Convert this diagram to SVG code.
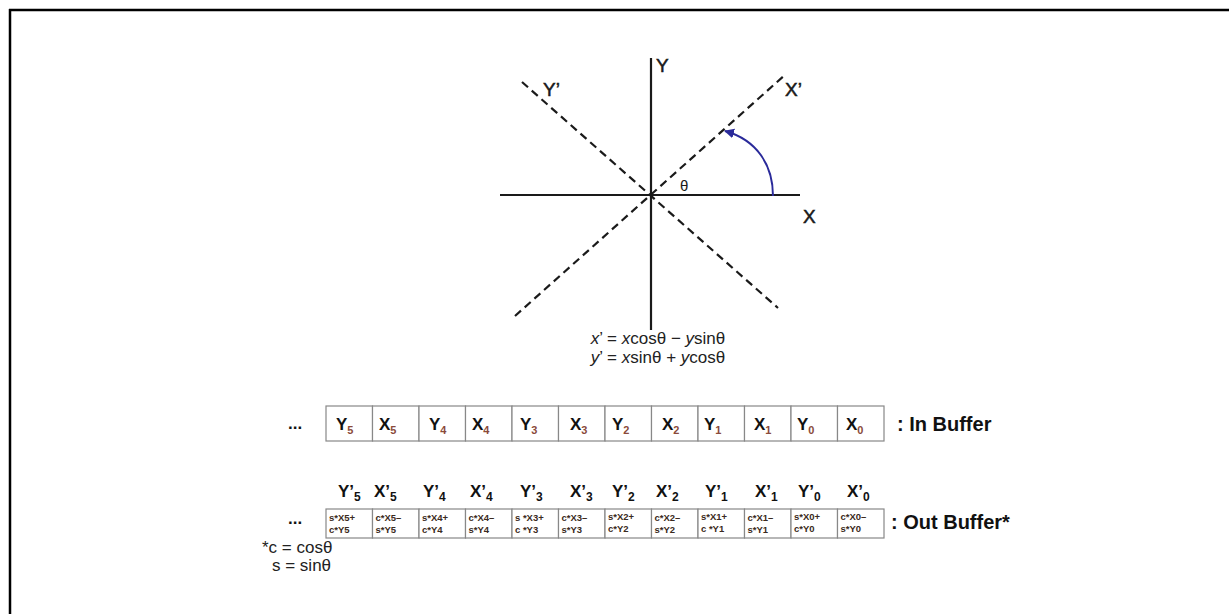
<svg xmlns="http://www.w3.org/2000/svg" width="1229" height="614" viewBox="0 0 1229 614">
<style>
.ax{stroke:#1a1a1a;stroke-width:2.2;fill:none}
.dash{stroke:#1a1a1a;stroke-width:2.2;fill:none;stroke-dasharray:8 5}
.lbl{font-family:"Liberation Sans",Arial,sans-serif;font-size:19px;fill:#1a1a1a;stroke:#1a1a1a;stroke-width:0.5}
.eq{font-family:"Liberation Sans",Arial,sans-serif;font-size:17px;fill:#222}
.cell{fill:#fff;stroke:#888;stroke-width:1.2}
.big{font-family:"Liberation Sans",Arial,sans-serif;font-size:17px;font-weight:bold;fill:#111}
.sub{font-size:11px;fill:#8a4a3a}
.osub{font-size:12px;fill:#111}
.tiny{font-family:"Liberation Sans",Arial,sans-serif;font-size:9.5px;font-weight:bold;fill:#3a2a20}
.tag{font-family:"Liberation Sans",Arial,sans-serif;font-size:20px;font-weight:bold;fill:#111}
.note{font-family:"Liberation Sans",Arial,sans-serif;font-size:17px;fill:#222}
</style>
<defs>
<marker id="ah" viewBox="0 0 10 10" refX="9" refY="5" markerWidth="5" markerHeight="5" orient="auto">
<path d="M0,0 L10,5 L0,10 z" fill="#2a2a9a"/>
</marker>
</defs>
<g id="frame">
<line x1="9" y1="10" x2="1229" y2="10" stroke="#000" stroke-width="2.5"/>
<line x1="10" y1="9" x2="10" y2="614" stroke="#000" stroke-width="2.5"/>
</g>
<g id="axes">
<line class="ax" x1="651" y1="58" x2="651" y2="330"/>
<line class="ax" x1="500" y1="195" x2="800" y2="195"/>
<line class="dash" x1="515" y1="316" x2="786" y2="74"/>
<line class="dash" x1="522" y1="82" x2="778" y2="308"/>
<path d="M773,196 C773,165 757,140 725,131" fill="none" stroke="#2a2a9a" stroke-width="2" marker-end="url(#ah)"/>
<text class="lbl" x="656" y="72">Y</text>
<text class="lbl" x="543" y="96">Y’</text>
<text class="lbl" x="785" y="96">X’</text>
<text class="lbl" x="803" y="223">X</text>
<text class="lbl" x="680" y="191" style="font-size:15px;stroke-width:0">θ</text>
</g>
<g id="equations">
<text class="eq" x="658" y="344" text-anchor="middle"><tspan font-style="italic">x</tspan>’ = <tspan font-style="italic">x</tspan>cosθ − <tspan font-style="italic">y</tspan>sinθ</text>
<text class="eq" x="658" y="363" text-anchor="middle"><tspan font-style="italic">y</tspan>’ = <tspan font-style="italic">x</tspan>sinθ + <tspan font-style="italic">y</tspan>cosθ</text>
</g>
<g id="in-buffer">
<text class="big" x="288" y="429">...</text>
<rect class="cell" x="326" y="406" width="46.5" height="35"/>
<rect class="cell" x="372.5" y="406" width="46.5" height="35"/>
<rect class="cell" x="419" y="406" width="46.5" height="35"/>
<rect class="cell" x="465.5" y="406" width="46.5" height="35"/>
<rect class="cell" x="512" y="406" width="46.5" height="35"/>
<rect class="cell" x="558.5" y="406" width="46.5" height="35"/>
<rect class="cell" x="605" y="406" width="46.5" height="35"/>
<rect class="cell" x="651.5" y="406" width="46.5" height="35"/>
<rect class="cell" x="698" y="406" width="46.5" height="35"/>
<rect class="cell" x="744.5" y="406" width="46.5" height="35"/>
<rect class="cell" x="791" y="406" width="46.5" height="35"/>
<rect class="cell" x="837.5" y="406" width="46.5" height="35"/>
<text class="big" x="336" y="430">Y<tspan class="sub" dy="4">5</tspan></text>
<text class="big" x="379" y="430">X<tspan class="sub" dy="4">5</tspan></text>
<text class="big" x="429" y="430">Y<tspan class="sub" dy="4">4</tspan></text>
<text class="big" x="472" y="430">X<tspan class="sub" dy="4">4</tspan></text>
<text class="big" x="520" y="430">Y<tspan class="sub" dy="4">3</tspan></text>
<text class="big" x="570" y="430">X<tspan class="sub" dy="4">3</tspan></text>
<text class="big" x="612" y="430">Y<tspan class="sub" dy="4">2</tspan></text>
<text class="big" x="662" y="430">X<tspan class="sub" dy="4">2</tspan></text>
<text class="big" x="704" y="430">Y<tspan class="sub" dy="4">1</tspan></text>
<text class="big" x="754" y="430">X<tspan class="sub" dy="4">1</tspan></text>
<text class="big" x="797" y="430">Y<tspan class="sub" dy="4">0</tspan></text>
<text class="big" x="846" y="430">X<tspan class="sub" dy="4">0</tspan></text>
<text class="tag" x="897" y="431">: In Buffer</text>
</g>
<g id="out-labels">
<text class="big" x="338" y="497">Y’<tspan class="osub" dy="4">5</tspan></text>
<text class="big" x="374" y="497">X’<tspan class="osub" dy="4">5</tspan></text>
<text class="big" x="423" y="497">Y’<tspan class="osub" dy="4">4</tspan></text>
<text class="big" x="470" y="497">X’<tspan class="osub" dy="4">4</tspan></text>
<text class="big" x="520" y="497">Y’<tspan class="osub" dy="4">3</tspan></text>
<text class="big" x="570" y="497">X’<tspan class="osub" dy="4">3</tspan></text>
<text class="big" x="612" y="497">Y’<tspan class="osub" dy="4">2</tspan></text>
<text class="big" x="656" y="497">X’<tspan class="osub" dy="4">2</tspan></text>
<text class="big" x="705" y="497">Y’<tspan class="osub" dy="4">1</tspan></text>
<text class="big" x="755" y="497">X’<tspan class="osub" dy="4">1</tspan></text>
<text class="big" x="798" y="497">Y’<tspan class="osub" dy="4">0</tspan></text>
<text class="big" x="847" y="497">X’<tspan class="osub" dy="4">0</tspan></text>
</g>
<g id="out-buffer">
<text class="big" x="288" y="524">...</text>
<rect class="cell" x="326" y="509" width="46.5" height="29"/>
<rect class="cell" x="372.5" y="509" width="46.5" height="29"/>
<rect class="cell" x="419" y="509" width="46.5" height="29"/>
<rect class="cell" x="465.5" y="509" width="46.5" height="29"/>
<rect class="cell" x="512" y="509" width="46.5" height="29"/>
<rect class="cell" x="558.5" y="509" width="46.5" height="29"/>
<rect class="cell" x="605" y="509" width="46.5" height="29"/>
<rect class="cell" x="651.5" y="509" width="46.5" height="29"/>
<rect class="cell" x="698" y="509" width="46.5" height="29"/>
<rect class="cell" x="744.5" y="509" width="46.5" height="29"/>
<rect class="cell" x="791" y="509" width="46.5" height="29"/>
<rect class="cell" x="837.5" y="509" width="46.5" height="29"/>
<text class="tiny" x="329" y="521">s*X5+</text><text class="tiny" x="329" y="533">c*Y5</text>
<text class="tiny" x="375.5" y="521">c*X5–</text><text class="tiny" x="375.5" y="533">s*Y5</text>
<text class="tiny" x="422" y="521">s*X4+</text><text class="tiny" x="422" y="533">c*Y4</text>
<text class="tiny" x="468.5" y="521">c*X4–</text><text class="tiny" x="468.5" y="533">s*Y4</text>
<text class="tiny" x="515" y="521">s *X3+</text><text class="tiny" x="515" y="533">c *Y3</text>
<text class="tiny" x="561.5" y="521">c*X3–</text><text class="tiny" x="561.5" y="533">s*Y3</text>
<text class="tiny" x="608" y="520">s*X2+</text><text class="tiny" x="608" y="532">c*Y2</text>
<text class="tiny" x="654.5" y="521">c*X2–</text><text class="tiny" x="654.5" y="533">s*Y2</text>
<text class="tiny" x="701" y="520">s*X1+</text><text class="tiny" x="701" y="532">c *Y1</text>
<text class="tiny" x="747.5" y="521">c*X1–</text><text class="tiny" x="747.5" y="533">s*Y1</text>
<text class="tiny" x="794" y="520">s*X0+</text><text class="tiny" x="794" y="532">c*Y0</text>
<text class="tiny" x="840.5" y="520">c*X0–</text><text class="tiny" x="840.5" y="532">s*Y0</text>
<text class="tag" x="891" y="529">: Out Buffer*</text>
</g>
<g id="note">
<text class="note" x="262" y="553">*c = cosθ</text>
<text class="note" x="272" y="571">s = sinθ</text>
</g>
</svg>
